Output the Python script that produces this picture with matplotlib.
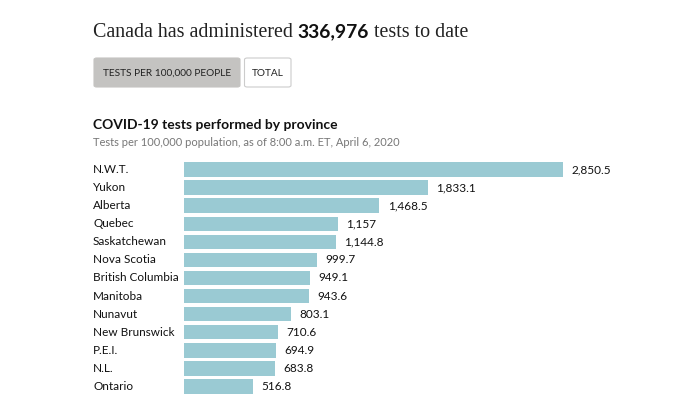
import matplotlib
matplotlib.use("Agg")
import matplotlib.pyplot as plt
from matplotlib import transforms
from matplotlib.patches import FancyBboxPatch

# data
provinces = ["N.W.T.", "Yukon", "Alberta", "Quebec", "Saskatchewan", "Nova Scotia",
             "British Columbia", "Manitoba", "Nunavut", "New Brunswick", "P.E.I.",
             "N.L.", "Ontario"]
tests_per_100k = [2850.5, 1833.1, 1468.5, 1157, 1144.8, 999.7,
                  949.1, 943.6, 803.1, 710.6, 694.9, 683.8, 516.8]
total_tests = "336,976"

W, H = 680, 415
BAR_COLOR = "#9acad3"
SANS = "Lato"


def fx(px):
    return px / W


def fy(py):
    return 1 - py / H


def fmt(v):
    if float(v).is_integer():
        return f"{v:,.0f}"
    return f"{v:,.1f}"


fig = plt.figure(figsize=(W / 100, H / 100), dpi=100)
fig.patch.set_facecolor("white")

# headline, drawn piece by piece so the number can be bold
pieces = [("Canada has administered ", "normal"),
          (total_tests, "bold"),
          (" tests to date", "normal")]
renderer = fig.canvas.get_renderer()
x = fx(93)
for txt, weight in pieces:
    if weight == "normal":
        t = fig.text(x, fy(37), txt, fontsize=14.4, family="Liberation Serif",
                     color="#222222", va="baseline", ha="left")
    else:
        t = fig.text(x, fy(37), txt, fontsize=13.9, family=SANS, fontweight="bold",
                     color="#111111", va="baseline", ha="left")
    bb = t.get_window_extent(renderer=renderer)
    x += bb.width / W

# toggle buttons
fig.patches.append(FancyBboxPatch((fx(94), fy(87)), fx(146), 29 / H,
                                  boxstyle="round,pad=0,rounding_size=0.004",
                                  transform=fig.transFigure, facecolor="#c4c3c1",
                                  edgecolor="#c4c3c1", linewidth=0.8))
fig.patches.append(FancyBboxPatch((fx(244.5), fy(87)), fx(46.5), 29 / H,
                                  boxstyle="round,pad=0,rounding_size=0.004",
                                  transform=fig.transFigure, facecolor="white",
                                  edgecolor="#cccccc", linewidth=0.8))
fig.text(fx(167), fy(73), "TESTS PER 100,000 PEOPLE", fontsize=7.3, family=SANS,
         color="#222222", ha="center", va="center")
fig.text(fx(267.5), fy(73), "TOTAL", fontsize=7.3, family=SANS,
         color="#222222", ha="center", va="center")

# chart title and subtitle
fig.text(fx(93), fy(125), "COVID-19 tests performed by province", fontsize=10,
         family=SANS, fontweight="bold", color="#111111", va="center", ha="left")
fig.text(fx(93), fy(142), "Tests per 100,000 population, as of 8:00 a.m. ET, April 6, 2020",
         fontsize=8.0, family=SANS, color="#777777", va="center", ha="left")

# bars
top_px, pitch = 169.5 - 18.08 / 2, 18.08
bottom_px = top_px + pitch * len(provinces)
ax = fig.add_axes([fx(184), fy(bottom_px), fx(563 - 184), (bottom_px - top_px) / H])
ypos = list(range(len(provinces)))
ax.barh(ypos, tests_per_100k, height=0.8, color=BAR_COLOR, linewidth=0)
ax.set_xlim(0, max(tests_per_100k))
ax.set_ylim(len(provinces) - 0.5, -0.5)
ax.axis("off")

lab_tr = transforms.blended_transform_factory(fig.transFigure, ax.transData)
for y, name, v in zip(ypos, provinces, tests_per_100k):
    ax.text(fx(93), y, name, transform=lab_tr, fontsize=8.5, family=SANS,
            color="#111111", va="center", ha="left")
    ax.annotate(fmt(v), (v, y), xytext=(6, 0), textcoords="offset points",
                fontsize=8.5, family=SANS, color="#111111", va="center", ha="left",
                annotation_clip=False)

fig.savefig("out.png", dpi=100)
